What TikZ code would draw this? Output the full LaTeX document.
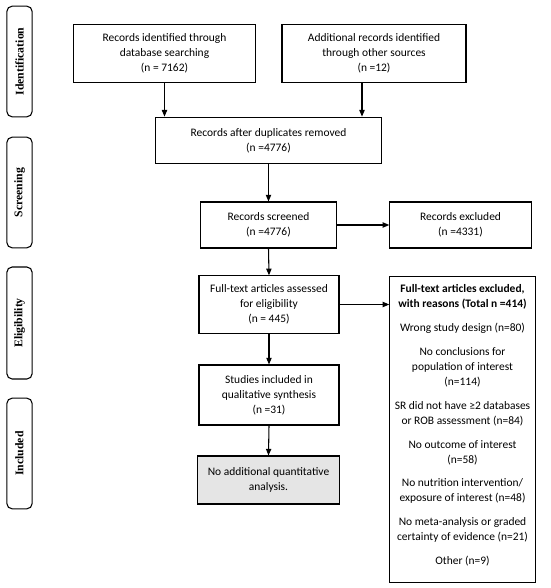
\documentclass[tikz,border=0pt]{standalone}
\usepackage{fontspec}
\setmainfont{Carlito}
\newfontfamily\sidefont{Liberation Serif}
\usetikzlibrary{arrows.meta}
\begin{document}
\begin{tikzpicture}[x=0.75pt,y=-0.75pt,
  box/.style={draw,line width=0.8pt,align=center,font=\fontsize{8.6}{11.3}\selectfont,inner sep=0pt},
  side/.style={draw,line width=0.8pt,rounded corners=4pt,inner sep=0pt},
  sidetext/.style={rotate=90,font=\sidefont\bfseries\fontsize{8.8}{10}\selectfont},
  arr/.style={-{Triangle[length=5pt,width=4pt]},line width=0.8pt}]
\useasboundingbox (0,0) rectangle (550,588);
% side labels
\node[side,minimum width=19pt,minimum height=83pt] (s1) at (19.5,61.5) {};
\node[sidetext] (t1) at (s1.center) {Identification};
\node[side,minimum width=19pt,minimum height=83pt] (s2) at (19.5,192.5) {};
\node[sidetext] (t2) at (s2.center) {Screening};
\node[side,minimum width=19pt,minimum height=84pt] (s3) at (19.5,323) {};
\node[sidetext] (t3) at (s3.center) {Eligibility};
\node[side,minimum width=19pt,minimum height=83pt] (s4) at (19.5,453.5) {};
\node[sidetext] (t4) at (s4.center) {Included};
% boxes
\node[box,minimum width=137pt,minimum height=44pt] (b1) at (164.5,53.5) {Records identified through\\database searching\\(n = 7162)};
\node[box,minimum width=138pt,minimum height=44pt] (b2) at (374,53.5) {Additional records identified\\through other sources\\(n =12)};
\node[box,minimum width=170pt,minimum height=35pt] (b3) at (268.5,140.5) {Records after duplicates removed\\(n =4776)};
\node[box,minimum width=102pt,minimum height=34.5pt] (b4) at (268.5,225) {Records screened\\(n =4776)};
\node[box,minimum width=106pt,minimum height=34.5pt] (b5) at (460.5,225) {Records excluded\\(n =4331)};
\node[box,minimum width=105pt,minimum height=43pt] (b6) at (269,304.5) {Full-text articles assessed\\for eligibility\\(n = 445)};
\node[box,minimum width=105pt,minimum height=45pt] (b7) at (269,395) {Studies included in\\qualitative synthesis\\(n =31)};
\node[box,fill=black!10,minimum width=106pt,minimum height=36pt] (b8) at (268.5,480) {No additional quantitative\\analysis.};
\node[box,minimum width=109pt,minimum height=229.5pt,anchor=north] (b9) at (462.5,276) {};
\node[align=center,font=\fontsize{8.6}{11.3}\selectfont,anchor=north,inner sep=0pt] (b9t) at (462.5,284.5) {%
\textbf{Full-text articles excluded,}\\\textbf{with reasons (Total n =414)}\\[6.5pt]
Wrong study design (n=80)\\[6.5pt]
No conclusions for\\population of interest\\(n=114)\\[6.5pt]
SR did not have ≥2 databases\\or ROB assessment (n=84)\\[6.5pt]
No outcome of interest\\(n=58)\\[6.5pt]
No nutrition intervention/\\exposure of interest (n=48)\\[6.5pt]
No meta-analysis or graded\\certainty of evidence (n=21)\\[6.5pt]
Other (n=9)};
% arrows
\draw[arr] (b1.south) -- (b1.south |- b3.north);
\draw[arr] (b2.south -| 362,0) -- (362,0 |- b3.north);
\draw[arr] (b3.south -| b4.north) -- (b4.north);
\draw[arr] (b4.east) -- (b5.west);
\draw[arr] (b4.south) -- (b6.north);
\draw[arr] (b6.east) -- (b6.east -| b9.west);
\draw[arr] (b6.south) -- (b7.north);
\draw[arr] (b7.south) -- (b8.north);
\end{tikzpicture}
\end{document}
